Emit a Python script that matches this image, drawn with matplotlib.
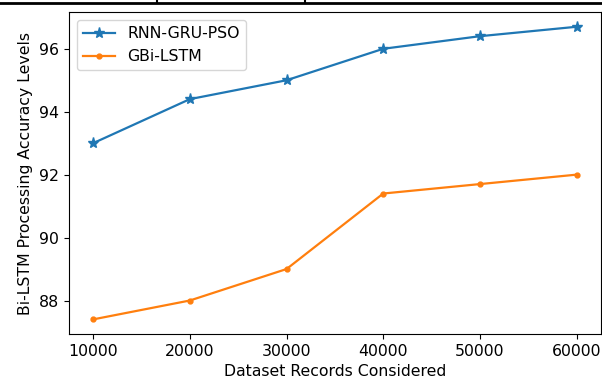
import matplotlib
matplotlib.use("Agg")
import matplotlib.pyplot as plt
from matplotlib.lines import Line2D

plt.rcParams['font.size'] = 11.3

# 데이터
records = [10000, 20000, 30000, 40000, 50000, 60000]
rnn_gru_pso = [93.0, 94.4, 95.0, 96.0, 96.4, 96.7]
gbi_lstm = [87.4, 88.0, 89.0, 91.4, 91.7, 92.0]

fig = plt.figure(figsize=(6.02, 3.79), dpi=100)
ax = fig.add_axes([0.1146, 0.1187, 0.8834, 0.8493])

ax.plot(records, rnn_gru_pso, marker="*", markersize=8, lw=1.6, label="RNN-GRU-PSO")
ax.plot(records, gbi_lstm, marker=".", markersize=7, lw=1.6, label="GBi-LSTM")

ax.set_xticks(records)
ax.set_yticks([88, 90, 92, 94, 96])
ax.set_xlabel("Dataset Records Considered")
ax.set_ylabel("Bi-LSTM Processing Accuracy Levels")
ax.legend(loc="upper left")

# 스크린샷 상단 표 테두리
fig.add_artist(Line2D([0, 1], [0.992, 0.992], color="black", lw=2, transform=fig.transFigure))
for xp in [157 / 602, 305 / 602]:
    fig.add_artist(Line2D([xp, xp], [0.992, 1.0], color="black", lw=1.5, transform=fig.transFigure))

fig.savefig("out.png", dpi=100)
